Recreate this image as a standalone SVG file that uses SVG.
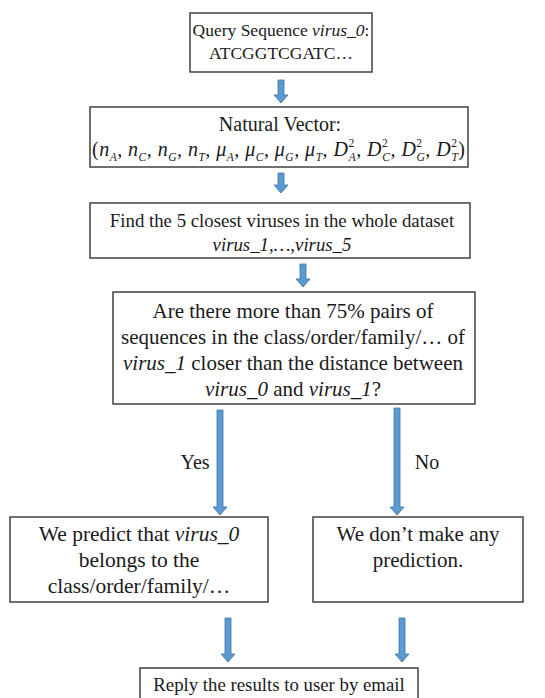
<svg xmlns="http://www.w3.org/2000/svg" width="545" height="698" viewBox="0 0 545 698">
<style>
.box{fill:#fff;stroke:#404040;stroke-width:1.5}
.t{font-family:"Liberation Serif","Times New Roman",serif;fill:#1a1a1a;text-anchor:middle}
.i{font-style:italic}
.f17{font-size:17.5px}
.f19{font-size:18.8px}
.f20{font-size:20px}
.f21{font-size:21px}
.f22{font-size:21.5px}
.arr{fill:#5B9BD5;stroke:#41719C;stroke-width:0.8}
.m{font-family:"Liberation Serif","Times New Roman",serif;font-size:20px;fill:#1a1a1a;font-style:italic}
.s{font-size:11.5px}
</style>
<rect width="545" height="698" fill="#fff"/>
<g id="query">
<rect class="box" x="190" y="13" width="182" height="59"/>
<text class="t f17" x="281" y="36">Query Sequence <tspan class="i">virus_0</tspan>:</text>
<text class="t f17" x="281" y="59">ATCGGTCGATC…</text>
</g>
<g id="natural-vector">
<rect class="box" x="90" y="107" width="378" height="60"/>
<text class="t f20" x="280" y="131">Natural Vector:</text>
<text class="m" x="92" y="156" textLength="373" lengthAdjust="spacing"><tspan font-style="normal">(</tspan>n<tspan class="s" dy="5">A</tspan><tspan dy="-5">, n</tspan><tspan class="s" dy="5">C</tspan><tspan dy="-5">, n</tspan><tspan class="s" dy="5">G</tspan><tspan dy="-5">, n</tspan><tspan class="s" dy="5">T</tspan><tspan dy="-5">, μ</tspan><tspan class="s" dy="5">A</tspan><tspan dy="-5">, μ</tspan><tspan class="s" dy="5">C</tspan><tspan dy="-5">, μ</tspan><tspan class="s" dy="5">G</tspan><tspan dy="-5">, μ</tspan><tspan class="s" dy="5">T</tspan><tspan dy="-5">, D</tspan><tspan class="s" font-style="normal" dy="-9">2</tspan><tspan class="s" dx="-6" dy="14">A</tspan><tspan dy="-5">, D</tspan><tspan class="s" font-style="normal" dy="-9">2</tspan><tspan class="s" dx="-6" dy="14">C</tspan><tspan dy="-5">, D</tspan><tspan class="s" font-style="normal" dy="-9">2</tspan><tspan class="s" dx="-6" dy="14">G</tspan><tspan dy="-5">, D</tspan><tspan class="s" font-style="normal" dy="-9">2</tspan><tspan class="s" dx="-6" dy="14">T</tspan><tspan dy="-5" font-style="normal">)</tspan></text>
</g>
<g id="closest">
<rect class="box" x="90" y="203" width="380" height="55"/>
<text class="t f19" x="282" y="227">Find the 5 closest viruses in the whole dataset</text>
<text class="t f19 i" x="282" y="251">virus_1,…,virus_5</text>
</g>
<g id="question">
<rect class="box" x="113" y="292" width="362" height="112"/>
<text class="t f21" x="293" y="318">Are there more than 75% pairs of</text>
<text class="t f21" x="293" y="344">sequences in the class/order/family/… of</text>
<text class="t f21" x="293" y="370"><tspan class="i">virus_1</tspan> closer than the distance between</text>
<text class="t f21" x="293" y="396"><tspan class="i">virus_0</tspan> and <tspan class="i">virus_1</tspan>?</text>
</g>
<g id="predict">
<rect class="box" x="10" y="517" width="258" height="85"/>
<text class="t f22" x="139" y="541">We predict that <tspan class="i">virus_0</tspan></text>
<text class="t f22" x="139" y="567">belongs to the</text>
<text class="t f22" x="139" y="593">class/order/family/…</text>
</g>
<g id="no-prediction">
<rect class="box" x="313" y="517" width="210" height="85"/>
<text class="t f21" x="418" y="541">We don’t make any</text>
<text class="t f21" x="418" y="567">prediction.</text>
</g>
<g id="reply">
<rect class="box" x="140" y="668" width="278" height="40"/>
<text class="t f19" x="279" y="691">Reply the results to user by email</text>
</g>
<g id="connectors">
<path class="arr" d="M278 80h6v15h4l-7 8l-7-8h4z"/>
<path class="arr" d="M278 173h6v12h4l-7 8l-7-8h4z"/>
<path class="arr" d="M300 264h6v15h4l-7 8l-7-8h4z"/>
<path class="arr" d="M217 410h6v97h4l-7 8l-7-8h4z"/>
<path class="arr" d="M394 408h6v99h4l-7 8l-7-8h4z"/>
<path class="arr" d="M225 618h6v36h4l-7 8l-7-8h4z"/>
<path class="arr" d="M399 618h6v36h4l-7 8l-7-8h4z"/>
<text class="t f20" x="195" y="469">Yes</text>
<text class="t f20" x="427" y="469">No</text>
</g>
</svg>
